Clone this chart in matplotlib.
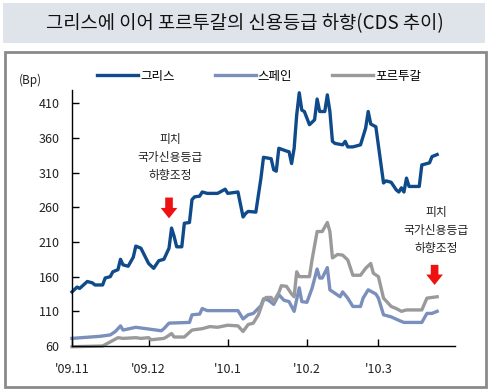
import matplotlib
matplotlib.use("Agg")
import matplotlib.pyplot as plt
import matplotlib.dates as mdates
from matplotlib.patches import Rectangle
import pandas as pd

plt.rcParams['font.family'] = ['Noto Sans CJK KR', 'DejaVu Sans']

# ---- data (CDS, bp) -------------------------------------------------
greece_dates = ['2009-11-01', '2009-11-03', '2009-11-04', '2009-11-07', '2009-11-09', '2009-11-10',
                '2009-11-13', '2009-11-14', '2009-11-16', '2009-11-17', '2009-11-19', '2009-11-20',
                '2009-11-21', '2009-11-23', '2009-11-25', '2009-11-26', '2009-11-28', '2009-12-01',
                '2009-12-03', '2009-12-05', '2009-12-07', '2009-12-09', '2009-12-10', '2009-12-11',
                '2009-12-12', '2009-12-14', '2009-12-15', '2009-12-17', '2009-12-18', '2009-12-19',
                '2009-12-21', '2009-12-22', '2009-12-24', '2009-12-28', '2009-12-31', '2010-01-01',
                '2010-01-05', '2010-01-07', '2010-01-08', '2010-01-09', '2010-01-12', '2010-01-14',
                '2010-01-15', '2010-01-18', '2010-01-19', '2010-01-20', '2010-01-21', '2010-01-24',
                '2010-01-25', '2010-01-26', '2010-01-27', '2010-01-28', '2010-01-29', '2010-01-30',
                '2010-01-31', '2010-02-02', '2010-02-04', '2010-02-05', '2010-02-06', '2010-02-08',
                '2010-02-09', '2010-02-10', '2010-02-11', '2010-02-12', '2010-02-15', '2010-02-16',
                '2010-02-17', '2010-02-19', '2010-02-22', '2010-02-24', '2010-02-25', '2010-02-26',
                '2010-02-28', '2010-03-03', '2010-03-04', '2010-03-06', '2010-03-08', '2010-03-09',
                '2010-03-10', '2010-03-11', '2010-03-12', '2010-03-13', '2010-03-17', '2010-03-18',
                '2010-03-20', '2010-03-21', '2010-03-22', '2010-03-24']
greece = [138, 145, 143, 153, 151, 148,
          148, 158, 160, 167, 170, 185,
          177, 175, 188, 204, 201, 179,
          172, 183, 185, 201, 230, 218,
          203, 203, 237, 238, 271, 275,
          276, 282, 280, 280, 286, 280,
          282, 246, 251, 254, 253, 302,
          332, 330, 314, 312, 345, 341,
          340, 323, 345, 393, 425, 400,
          398, 379, 386, 416, 398, 398,
          422, 398, 355, 352, 350, 355,
          347, 347, 350, 374, 398, 380,
          376, 295, 298, 296, 285, 282,
          288, 282, 302, 290, 290, 321,
          323, 324, 333, 336]

spain_dates = ['2009-11-01', '2009-11-12', '2009-11-16', '2009-11-18', '2009-11-20', '2009-11-21',
               '2009-11-26', '2009-12-02', '2009-12-06', '2009-12-07', '2009-12-09', '2009-12-17',
               '2009-12-18', '2009-12-21', '2009-12-22', '2009-12-24', '2010-01-05', '2010-01-07',
               '2010-01-09', '2010-01-11', '2010-01-14', '2010-01-15', '2010-01-17', '2010-01-19',
               '2010-01-21', '2010-01-23', '2010-01-25', '2010-01-27', '2010-01-29', '2010-01-30',
               '2010-02-01', '2010-02-03', '2010-02-05', '2010-02-06', '2010-02-07', '2010-02-09',
               '2010-02-10', '2010-02-12', '2010-02-14', '2010-02-15', '2010-02-17', '2010-02-19',
               '2010-02-22', '2010-02-23', '2010-02-25', '2010-02-28', '2010-03-01', '2010-03-03',
               '2010-03-06', '2010-03-09', '2010-03-11', '2010-03-18', '2010-03-20', '2010-03-22',
               '2010-03-24']
spain = [71, 74, 76, 81, 89, 83,
         87, 84, 82, 85, 93, 94,
         105, 106, 114, 111, 111, 99,
         105, 107, 118, 128, 126, 120,
         134, 126, 124, 110, 144, 124,
         123, 143, 171, 158, 158, 173,
         141, 136, 131, 138, 129, 117,
         117, 129, 141, 135, 129, 105,
         102, 97, 94, 94, 107, 107,
         110]

portugal_dates = ['2009-11-01', '2009-11-13', '2009-11-16', '2009-11-18', '2009-11-19', '2009-11-21',
                  '2009-11-26', '2009-11-28', '2009-12-01', '2009-12-02', '2009-12-07', '2009-12-08',
                  '2009-12-10', '2009-12-11', '2009-12-15', '2009-12-18', '2009-12-22', '2009-12-25',
                  '2009-12-28', '2010-01-01', '2010-01-05', '2010-01-07', '2010-01-09', '2010-01-11',
                  '2010-01-13', '2010-01-15', '2010-01-16', '2010-01-18', '2010-01-19', '2010-01-21',
                  '2010-01-22', '2010-01-24', '2010-01-26', '2010-01-27', '2010-01-28', '2010-01-29',
                  '2010-02-02', '2010-02-03', '2010-02-05', '2010-02-07', '2010-02-09', '2010-02-10',
                  '2010-02-11', '2010-02-13', '2010-02-15', '2010-02-17', '2010-02-19', '2010-02-22',
                  '2010-02-24', '2010-02-26', '2010-02-27', '2010-03-01', '2010-03-03', '2010-03-06',
                  '2010-03-08', '2010-03-10', '2010-03-12', '2010-03-18', '2010-03-20', '2010-03-22',
                  '2010-03-24']
portugal = [59, 60, 66, 70, 72, 71,
            72, 71, 72, 69, 71, 73,
            78, 73, 73, 83, 85, 88,
            87, 90, 89, 81, 91, 93,
            105, 126, 130, 130, 124, 137,
            147, 146, 135, 131, 167, 160,
            160, 184, 225, 225, 238, 225,
            187, 192, 191, 184, 162, 162,
            172, 179, 165, 160, 129, 117,
            114, 110, 112, 112, 129, 130,
            131]

series_names = ['그리스', '스페인', '포르투갈']
series_colors = ['#0f4a8a', '#7b8fbd', '#9a9a9a']
month_ticks = ['2009-11-01', '2009-12-01', '2010-01-01', '2010-02-01', '2010-03-01']
month_labels = ["'09.11", "'09.12", "'10.1", "'10.2", "'10.3"]
y_ticks = [60, 110, 160, 210, 260, 310, 360, 410]
title = '그리스에 이어 포르투갈의 신용등급 하향(CDS 추이)'
note = '피치\n국가신용등급\n하향조정'
# fitch downgrades: (date, arrow top, arrow tip, text y)
events = [('2009-12-09', 278, 240, 331), ('2010-03-23', 181, 144, 227)]

# ---- figure ---------------------------------------------------------
fig = plt.figure(figsize=(4.89, 3.92), dpi=100)
fig.patches.append(Rectangle((0.006, 0.89), 0.986, 0.103, transform=fig.transFigure,
                             facecolor='#dfe4eb', edgecolor='none'))
fig.patches.append(Rectangle((0.01, 0.012), 0.984, 0.855, transform=fig.transFigure,
                             facecolor='none', edgecolor='#8a8a8a', linewidth=2))
fig.text(0.5, 0.941, title, ha='center', va='center', fontsize=13.5, color='#111111',
         fontweight='medium')

ax = fig.add_axes([0.1472, 0.1173, 0.7833, 0.6531])

all_dates = [greece_dates, spain_dates, portugal_dates]
all_vals = [greece, spain, portugal]
for dts, vals, name, col in zip(all_dates, all_vals, series_names, series_colors):
    ax.plot(pd.to_datetime(dts), vals, color=col, lw=2.4, label=name,
            solid_joinstyle='round', clip_on=False)

for d, top, tip, ty in events:
    dd = pd.Timestamp(d)
    ax.annotate('', xy=(dd, tip), xytext=(dd, top),
                arrowprops=dict(arrowstyle='simple,head_width=1.2,head_length=0.75,tail_width=0.55',
                                color='#ee1111', lw=0))
    ax.text(dd + pd.Timedelta(days=0.5), ty, note, ha='center', va='center', fontsize=8.5,
            color='#222222', linespacing=1.5)

ax.set_xlim(pd.Timestamp('2009-11-01'), pd.Timestamp('2010-03-31'))
ax.set_ylim(60, 429)
ax.set_yticks(y_ticks)
ax.set_xticks(pd.to_datetime(month_ticks))
ax.set_xticklabels(month_labels)
ax.tick_params(direction='in', length=5, width=1, labelsize=9, colors='black', labelcolor='#222222')
ax.tick_params(axis='y', pad=9)
ax.tick_params(axis='x', pad=12)
for s in ['top', 'right']:
    ax.spines[s].set_visible(False)
for s in ['left', 'bottom']:
    ax.spines[s].set_linewidth(1)
    ax.spines[s].set_zorder(3)

fig.text(0.063, 0.796, '(Bp)', ha='center', va='center', fontsize=8.5, color='#222222')
fig.legend(loc='center', bbox_to_anchor=(0.53, 0.806), ncol=3, frameon=False, fontsize=9,
           handlelength=3.3, handletextpad=0.15, columnspacing=3.2)

fig.savefig('out.png', dpi=100)
